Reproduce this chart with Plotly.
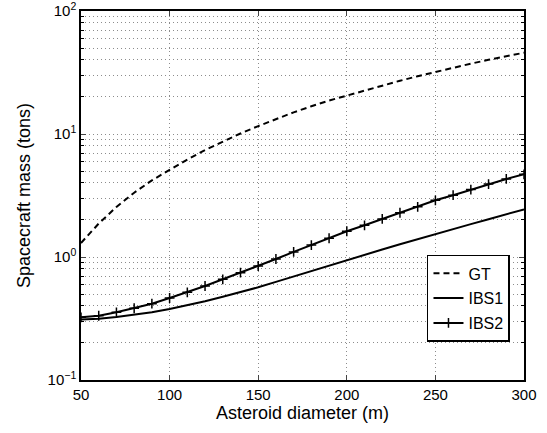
import plotly.graph_objects as go

diameter = [50, 60, 70, 80, 90, 100, 110, 120, 130, 140, 150, 160, 170, 180, 190,
            200, 210, 220, 230, 240, 250, 260, 270, 280, 290, 300]
gt = [1.30, 1.87, 2.55, 3.33, 4.20, 5.10, 6.20, 7.40, 8.70, 10.1, 11.6, 13.2, 15.0,
      16.8, 18.7, 20.5, 22.6, 24.8, 27.1, 29.5, 32.0, 34.6, 37.3, 40.1, 43.0, 45.8]
ibs1 = [0.310, 0.315, 0.325, 0.338, 0.355, 0.378, 0.405, 0.437, 0.475, 0.518, 0.567,
        0.628, 0.696, 0.771, 0.853, 0.945, 1.04, 1.15, 1.27, 1.40, 1.54, 1.69, 1.85,
        2.03, 2.23, 2.44]
ibs2 = [0.323, 0.333, 0.355, 0.383, 0.417, 0.464, 0.516, 0.581, 0.659, 0.745, 0.845,
        0.963, 1.10, 1.25, 1.42, 1.62, 1.81, 2.04, 2.29, 2.56, 2.89, 3.18, 3.53, 3.92,
        4.31, 4.70]

x_ticks = [50, 100, 150, 200, 250, 300]
y_tickvals = [0.1, 1, 10, 100]
y_ticktext = ["10<sup>\u22121</sup>", "10<sup>0</sup>", "10<sup>1</sup>", "10<sup>2</sup>"]

FONT = "Liberation Sans, Arial, Helvetica, sans-serif"
GRID = "#8c8c8c"
GDASH = "1px,3px"

fig = go.Figure()
fig.add_trace(go.Scatter(x=diameter, y=gt, mode="lines", name="GT", legendgroup="a",
                         line=dict(color="black", width=2, dash="6px,4px")))
fig.add_trace(go.Scatter(x=diameter, y=ibs1, mode="lines", name="IBS1", legendgroup="b",
                         line=dict(color="black", width=2)))
fig.add_trace(go.Scatter(x=diameter, y=ibs2, mode="lines+markers", name="IBS2", legendgroup="c",
                         line=dict(color="black", width=2),
                         marker=dict(symbol="cross-thin", size=7, color="black",
                                     line=dict(color="black", width=1.5))))

fig.update_layout(
    width=547, height=433,
    margin=dict(l=81, r=23, t=11, b=53),
    paper_bgcolor="white", plot_bgcolor="white",
    font=dict(family=FONT, size=15, color="black"),
    showlegend=True,
    legend=dict(x=0.781, y=0.339, xanchor="left", yanchor="top",
                bordercolor="black", borderwidth=1.5, bgcolor="white",
                font=dict(size=16), traceorder="grouped", tracegroupgap=1,
                itemwidth=30),
    xaxis=dict(range=[50, 300], tickvals=x_ticks, ticks="inside", ticklen=5,
               showline=True, linecolor="black", linewidth=1.5, mirror="ticks",
               showgrid=True, gridcolor=GRID, griddash=GDASH, gridwidth=1,
               zeroline=False, automargin=False, ticklabeloverflow="allow",
               title=dict(text="Asteroid diameter (m)", font=dict(size=18), standoff=4)),
    yaxis=dict(type="log", range=[-1, 2], tickvals=y_tickvals, ticktext=y_ticktext,
               ticks="inside", ticklen=5,
               showline=True, linecolor="black", linewidth=1.5, mirror="ticks",
               showgrid=True, gridcolor=GRID, griddash=GDASH, gridwidth=1,
               zeroline=False, automargin=False, ticklabeloverflow="allow",
               minor=dict(dtick="D1", ticks="inside", ticklen=3, tickcolor="black",
                          showgrid=True, gridcolor=GRID, griddash=GDASH, gridwidth=1),
               title=dict(text="Spacecraft mass (tons)", font=dict(size=18), standoff=12)),
)

fig.write_html("out.html", config={"displayModeBar": False},
               post_script="document.body.style.margin='0';")
